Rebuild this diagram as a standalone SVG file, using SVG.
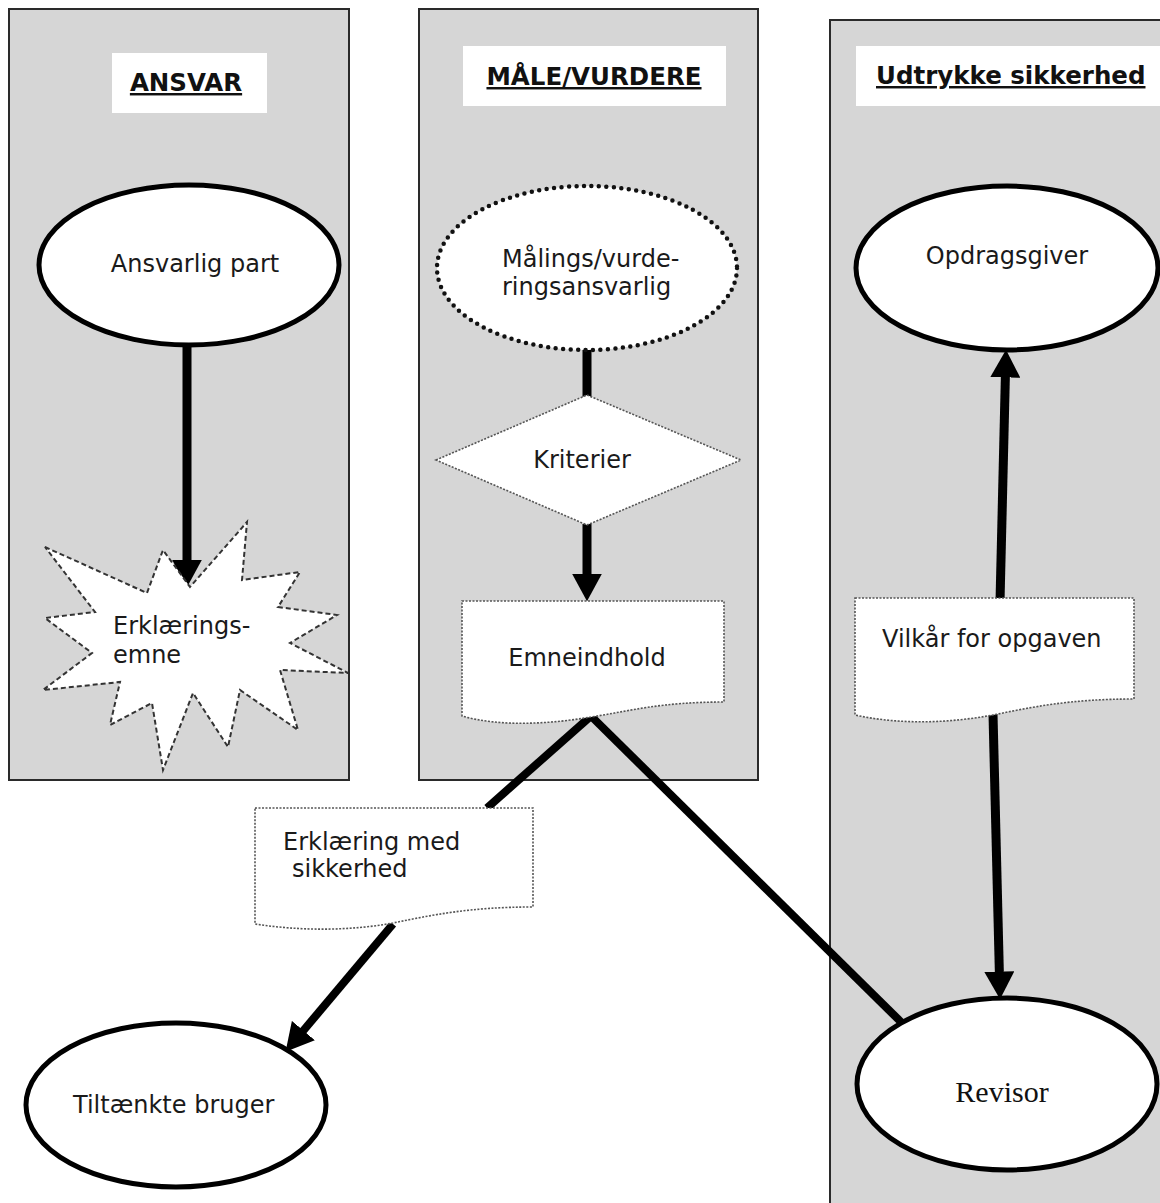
<svg xmlns="http://www.w3.org/2000/svg" width="1160" height="1203" viewBox="0 0 1160 1203">
<style>
.panel{fill:#d6d6d6;stroke:#2a2a2a;stroke-width:2}
.hbox{fill:#ffffff;stroke:none}
.htxt{font-family:"DejaVu Sans",Verdana,sans-serif;font-weight:bold;font-size:24.5px;fill:#111;text-decoration:underline}
.txt{font-family:"DejaVu Sans",Verdana,sans-serif;font-size:24px;fill:#1a1a1a}
.ell{fill:#fff;stroke:#000;stroke-width:5}
.dotell{fill:#fff;stroke:#111;stroke-width:4.5;stroke-dasharray:0 7.5;stroke-linecap:round}
.doc{fill:#fff;stroke:#555;stroke-width:1.6;stroke-dasharray:2 1.5}
.conn{stroke:#000;stroke-width:9;fill:none}
</style>
<defs>
<marker id="ah" markerUnits="userSpaceOnUse" markerWidth="30" markerHeight="30" refX="9" refY="13" orient="auto" viewBox="0 0 26 26">
<path d="M0,0 L24,13 L0,26 Z" fill="#000"/>
</marker>
</defs>

<g id="panel-ansvar">
<rect class="panel" x="9" y="9" width="340" height="771"/>
<rect class="hbox" x="112" y="53" width="155" height="60"/>
<text class="htxt" x="186" y="91" text-anchor="middle">ANSVAR</text>
</g>
<g id="panel-maale">
<rect class="panel" x="419" y="9" width="339" height="771"/>
<rect class="hbox" x="463" y="46" width="263" height="60"/>
<text class="htxt" x="594" y="85" text-anchor="middle">MÅLE/VURDERE</text>
</g>
<g id="panel-udtrykke">
<rect class="panel" x="830" y="20" width="340" height="1200"/>
<rect class="hbox" x="856" y="46" width="310" height="60"/>
<text class="htxt" x="876" y="84">Udtrykke sikkerhed</text>
</g>

<g id="connectors">
<line class="conn" x1="187" y1="347" x2="187" y2="570" marker-end="url(#ah)"/>
<line class="conn" x1="587" y1="348" x2="587" y2="398"/>
<line class="conn" x1="587" y1="524" x2="587" y2="584" marker-end="url(#ah)"/>
<line class="conn" style="stroke-width:8" x1="591" y1="716" x2="487" y2="808"/>
<line class="conn" style="stroke-width:8" x1="591" y1="716" x2="902" y2="1023"/>
<line class="conn" style="stroke-width:8" x1="393" y1="924" x2="296.7" y2="1038.5" marker-end="url(#ah)"/>
<line class="conn" x1="1000" y1="602" x2="1005.6" y2="367" marker-end="url(#ah)"/>
<line class="conn" x1="993" y1="714" x2="999.6" y2="982" marker-end="url(#ah)"/>
</g>

<g id="node-ansvarlig">
<ellipse class="ell" cx="189" cy="265" rx="150" ry="80"/>
<text class="txt" x="195" y="272" text-anchor="middle">Ansvarlig part</text>
</g>

<g id="node-erklaeringsemne">
<polygon points="45,547 147,593 163,550 190,587 247,522 242,580 300,572 278,607 337,615 290,643 348,673 280,670 298,730 240,690 228,747 193,693 163,770 152,703 110,725 120,682 43,690 92,653 45,618 95,612" fill="#fff" stroke="#333" stroke-width="2" stroke-dasharray="5 3"/>
<text class="txt" x="113" y="634">Erklærings-</text>
<text class="txt" x="113" y="663">emne</text>
</g>

<g id="node-maalings">
<ellipse class="dotell" cx="587" cy="268" rx="150" ry="82"/>
<text class="txt" x="502" y="267">Målings/vurde-</text>
<text class="txt" x="502" y="295">ringsansvarlig</text>
</g>

<g id="node-kriterier">
<polygon points="436,460 587,395 741,460 587,525" fill="#fff" stroke="#555" stroke-width="1.6" stroke-dasharray="2 1.5"/>
<text class="txt" x="582" y="468" text-anchor="middle">Kriterier</text>
</g>

<g id="node-emneindhold">
<path class="doc" d="M462,601 H724 V702 C660,702 630,711 591,717 C550,724 500,727 462,716 Z"/>
<text class="txt" x="587" y="666" text-anchor="middle">Emneindhold</text>
</g>

<g id="node-erklaering">
<path class="doc" d="M255,808 H533 V907 C470,907 432,915 393,923 C350,931 300,931 255,924 Z"/>
<text class="txt" x="283" y="850">Erklæring med</text>
<text class="txt" x="292" y="877">sikkerhed</text>
</g>

<g id="node-tiltaenkte">
<ellipse class="ell" cx="176" cy="1105" rx="150" ry="82"/>
<text class="txt" x="73" y="1113">Tiltænkte bruger</text>
</g>

<g id="node-opdragsgiver">
<ellipse class="ell" cx="1007" cy="268" rx="151" ry="82"/>
<text class="txt" x="1007" y="264" text-anchor="middle">Opdragsgiver</text>
</g>

<g id="node-vilkaar">
<path class="doc" d="M855,598 H1134 V699 C1070,699 1032,707 993,715 C950,723 900,725 855,715 Z"/>
<text class="txt" x="882" y="647">Vilkår for opgaven</text>
</g>

<g id="node-revisor">
<ellipse class="ell" cx="1007" cy="1084" rx="150" ry="86"/>
<text x="1002" y="1102" text-anchor="middle" font-family="Liberation Serif, Times New Roman, serif" font-size="30" fill="#111">Revisor</text>
</g>
</svg>
